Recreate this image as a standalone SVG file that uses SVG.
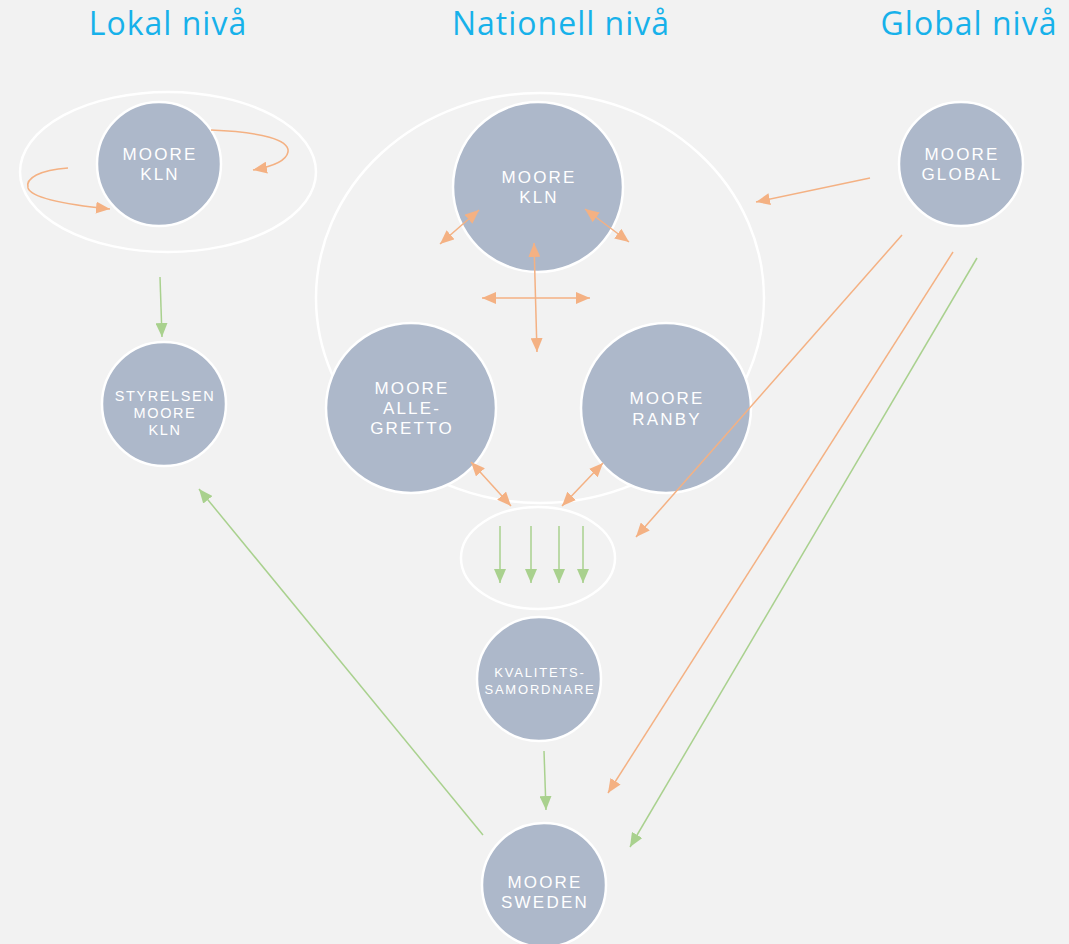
<svg xmlns="http://www.w3.org/2000/svg" width="1069" height="944" viewBox="0 0 1069 944">
<style>
.bg{fill:#f2f2f2}
.ring{fill:none;stroke:#ffffff;stroke-width:2.5}
.node{fill:#adb8ca;stroke:#ffffff;stroke-width:2.5}
.t{font-family:"Liberation Sans","Open Sans",sans-serif;fill:#ffffff;text-anchor:middle;font-size:17px;letter-spacing:2.2px}
.ts{font-size:14.5px;letter-spacing:1.6px}
.tx{font-size:13px;letter-spacing:1.8px}
.title{font-family:"Open Sans","Liberation Sans",sans-serif;fill:#17b1ea;text-anchor:middle;font-size:32px;letter-spacing:1px}
.o{fill:none;stroke:#f4b183;stroke-width:1.5}
.g{fill:none;stroke:#a9d18e;stroke-width:1.5}
</style>
<defs>
<marker id="ao" viewBox="0 0 14 12" refX="14" refY="6" markerWidth="14" markerHeight="12" markerUnits="userSpaceOnUse" orient="auto-start-reverse"><path d="M0,0 L14,6 L0,12 Z" fill="#f4b183"/></marker>
<marker id="ag" viewBox="0 0 14 12" refX="14" refY="6" markerWidth="14" markerHeight="12" markerUnits="userSpaceOnUse" orient="auto-start-reverse"><path d="M0,0 L14,6 L0,12 Z" fill="#a9d18e"/></marker>
</defs>
<rect class="bg" x="0" y="0" width="1069" height="944"/>

<g id="titles">
<text class="title" x="168" y="35">Lokal nivå</text>
<text class="title" x="561" y="35">Nationell nivå</text>
<text class="title" x="969" y="35">Global nivå</text>
</g>

<g id="groups">
<ellipse class="ring" cx="168" cy="172" rx="148" ry="80"/>
<ellipse class="ring" cx="540" cy="298" rx="224" ry="205"/>
<ellipse class="ring" cx="538" cy="558" rx="77" ry="51"/>
</g>

<g id="node-lokal-kln">
<circle class="node" cx="159" cy="164" r="62"/>
<text class="t" x="160" y="160">MOORE</text>
<text class="t" x="160" y="180">KLN</text>
</g>
<g id="node-styrelsen">
<circle class="node" cx="164" cy="404" r="62"/>
<text class="t ts" x="165" y="401">STYRELSEN</text>
<text class="t ts" x="165" y="418">MOORE</text>
<text class="t ts" x="165" y="435">KLN</text>
</g>
<g id="node-nat-kln">
<circle class="node" cx="538" cy="187" r="85"/>
<text class="t" x="539" y="183">MOORE</text>
<text class="t" x="539" y="203">KLN</text>
</g>
<g id="node-allegretto">
<circle class="node" cx="411" cy="408" r="85"/>
<text class="t" x="412" y="394">MOORE</text>
<text class="t" x="412" y="414">ALLE-</text>
<text class="t" x="412" y="434">GRETTO</text>
</g>
<g id="node-ranby">
<circle class="node" cx="666" cy="408" r="85"/>
<text class="t" x="667" y="404">MOORE</text>
<text class="t" x="667" y="425">RANBY</text>
</g>
<g id="node-global">
<circle class="node" cx="961" cy="164" r="62"/>
<text class="t" x="962" y="160">MOORE</text>
<text class="t" x="962" y="180">GLOBAL</text>
</g>
<g id="node-kvalitet">
<circle class="node" cx="539" cy="679" r="62"/>
<text class="t tx" x="540" y="677">KVALITETS-</text>
<text class="t tx" x="540" y="694">SAMORDNARE</text>
</g>
<g id="node-sweden">
<circle class="node" cx="544" cy="885" r="62"/>
<text class="t" x="545" y="888">MOORE</text>
<text class="t" x="545" y="908">SWEDEN</text>
</g>

<g id="connectors">
<path class="o" d="M211,130 C262,132 290,140 288,152 C286,162 270,167 253,170" marker-end="url(#ao)"/>
<path class="o" d="M68,168 C40,170 25,178 28,188 C32,200 80,206 110,209" marker-end="url(#ao)"/>
<line class="g" x1="160" y1="277" x2="162" y2="337" marker-end="url(#ag)"/>

<line class="o" x1="440" y1="244" x2="479" y2="210" marker-start="url(#ao)" marker-end="url(#ao)"/>
<line class="o" x1="585" y1="209" x2="629" y2="242" marker-start="url(#ao)" marker-end="url(#ao)"/>
<line class="o" x1="534" y1="243" x2="537" y2="352" marker-start="url(#ao)" marker-end="url(#ao)"/>
<line class="o" x1="482" y1="298" x2="590" y2="298" marker-start="url(#ao)" marker-end="url(#ao)"/>

<line class="o" x1="471" y1="462" x2="511" y2="506" marker-start="url(#ao)" marker-end="url(#ao)"/>
<line class="o" x1="603" y1="463" x2="562" y2="506" marker-start="url(#ao)" marker-end="url(#ao)"/>

<line class="g" x1="500" y1="526" x2="500" y2="583" marker-end="url(#ag)"/>
<line class="g" x1="531" y1="526" x2="531" y2="583" marker-end="url(#ag)"/>
<line class="g" x1="559" y1="526" x2="559" y2="583" marker-end="url(#ag)"/>
<line class="g" x1="583" y1="526" x2="583" y2="583" marker-end="url(#ag)"/>

<line class="o" x1="870" y1="178" x2="756" y2="202" marker-end="url(#ao)"/>
<line class="o" x1="902" y1="235" x2="636" y2="537" marker-end="url(#ao)"/>
<line class="o" x1="953" y1="252" x2="608" y2="793" marker-end="url(#ao)"/>
<line class="g" x1="977" y1="258" x2="630" y2="847" marker-end="url(#ag)"/>

<line class="g" x1="544" y1="751" x2="546" y2="810" marker-end="url(#ag)"/>
<line class="g" x1="483" y1="835" x2="199" y2="489" marker-end="url(#ag)"/>
</g>
</svg>
